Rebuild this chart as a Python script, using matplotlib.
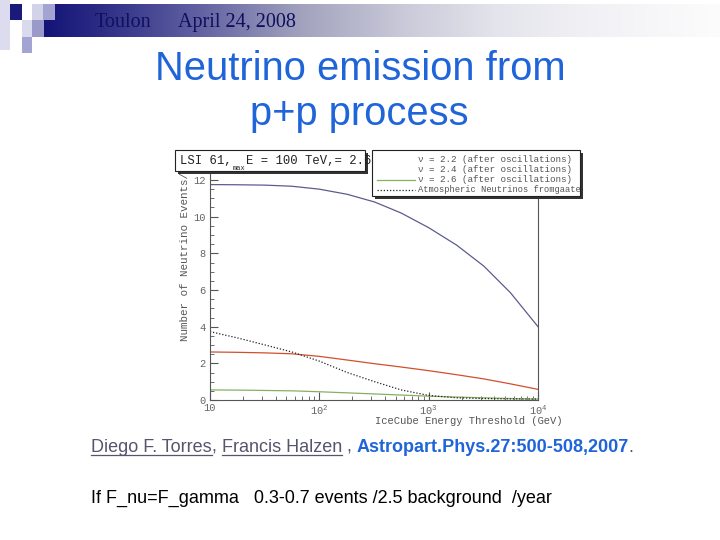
import numpy as np
import matplotlib.pyplot as plt
from matplotlib.patches import Rectangle
from matplotlib.colors import LinearSegmentedColormap
from matplotlib.ticker import FixedLocator, MultipleLocator, LogLocator, NullFormatter

# Données (seuil IceCube en GeV, nombre d'événements)
energie = [10, 18, 32, 56, 100, 180, 320, 560, 1000, 1800, 3200, 5600, 10000]
nu_22 = [11.75, 11.74, 11.72, 11.66, 11.5, 11.22, 10.8, 10.2, 9.4, 8.45, 7.3, 5.85, 4.0]
nu_24 = [2.62, 2.6, 2.57, 2.52, 2.38, 2.18, 1.98, 1.8, 1.6, 1.38, 1.15, 0.88, 0.58]
nu_26 = [0.55, 0.54, 0.52, 0.5, 0.45, 0.39, 0.33, 0.27, 0.21, 0.16, 0.12, 0.08, 0.05]
atmos = [3.73, 3.38, 3.0, 2.62, 2.12, 1.5, 1.0, 0.55, 0.25, 0.12, 0.08, 0.06, 0.05]

y_ticks = [0, 2, 4, 6, 8, 10, 12]
x_ticks = [10, 100, 1000, 10000]
x_tick_labels = ['10', '10$^{2}$', '10$^{3}$', '10$^{4}$']
legende = ['ν = 2.2 (after oscillations)',
           'ν = 2.4 (after oscillations)',
           'ν = 2.6 (after oscillations)',
           'Atmospheric Neutrinos fromgaate']

plt.rcParams['mathtext.fontset'] = 'custom'
plt.rcParams['mathtext.rm'] = 'Liberation Mono'
MONO = ['Liberation Mono', 'DejaVu Sans Mono']
GRIS = '#555555'

W, H = 720, 540
fig = plt.figure(figsize=(7.2, 5.4), dpi=100)
fig.patch.set_facecolor('white')


def boite(x0, y0, x1, y1):
    # rectangle en pixels (origine en haut à gauche) -> coordonnées figure
    return [x0 / W, 1 - y1 / H, (x1 - x0) / W, (y1 - y0) / H]


# --- graphique ---
ax = fig.add_axes(boite(210, 169, 538, 400))
ax.set_xscale('log')
ax.set_xlim(10, 1e4)
ax.set_ylim(0, 12.6)
ax.plot(energie, nu_22, color='#5c5c8e', lw=0.9)
ax.plot(energie, nu_24, color='#d0502e', lw=0.9)
ax.plot(energie, nu_26, color='#86b060', lw=0.9)
ax.plot(energie, atmos, color='#222222', lw=0.9, ls=(0, (1, 1.5)))

ax.spines['top'].set_visible(False)
for s in ['left', 'right', 'bottom']:
    ax.spines[s].set_color(GRIS)
    ax.spines[s].set_linewidth(0.8)
ax.yaxis.set_major_locator(FixedLocator(y_ticks))
ax.yaxis.set_minor_locator(MultipleLocator(0.5))
ax.xaxis.set_major_locator(FixedLocator(x_ticks))
ax.xaxis.set_minor_locator(LogLocator(base=10, subs=np.arange(2, 10)))
ax.xaxis.set_minor_formatter(NullFormatter())
ax.set_xticklabels(x_tick_labels)
ax.tick_params(which='both', direction='in', colors=GRIS, labelcolor='#666666',
               labelsize=7.5, right=False, top=False)
ax.tick_params(which='major', length=6, width=0.8, pad=3)
ax.tick_params(which='minor', length=3, width=0.6)
ax.tick_params(axis='x', which='major', pad=2.5)
for lab in ax.get_xticklabels() + ax.get_yticklabels():
    lab.set_family(MONO)

# --- calque de la diapositive ---
ov = fig.add_axes([0, 0, 1, 1], zorder=5)
ov.set_xlim(0, W)
ov.set_ylim(H, 0)
ov.axis('off')
ov.patch.set_alpha(0)

# bandeau en dégradé
degrade = LinearSegmentedColormap.from_list(
    'bandeau', [(0, '#141478'), (0.075, '#2a2a84'), (0.23, '#6262a2'),
                (0.38, '#a2a2be'), (0.53, '#c9c9d9'), (0.67, '#e4e4ec'),
                (0.82, '#f2f2f6'), (1, '#fcfcfc')])
ov.imshow(np.linspace(0, 1, 256)[None, :], cmap=degrade, aspect='auto',
          extent=(44, 720, 37, 4), zorder=1)

carres = [(0, 0, 10, 50, '#dcdcee'), (10, 4, 12, 16, '#1a1a7a'),
          (32, 4, 11, 16, '#d2d2e8'), (43, 4, 12, 16, '#a4a4d2'),
          (22, 20, 10, 17, '#dadaee'), (32, 20, 12, 17, '#9a9aca'),
          (22, 37, 10, 16, '#a4a4d2')]
for x, y, w, h, c in carres:
    ov.add_patch(Rectangle((x, y), w, h, color=c, lw=0, zorder=2))

ov.text(95, 27, 'Toulon', family='Liberation Serif', fontsize=14.5,
        color='#10105e', zorder=3)
ov.text(178, 27, 'April 24, 2008', family='Liberation Serif', fontsize=14.5,
        color='#10105e', zorder=3)

ov.text(360, 80, 'Neutrino emission from', family='Liberation Sans', fontsize=28.7,
        color='#1f64d8', ha='center', va='baseline')
ov.text(359, 125, 'p+p process', family='Liberation Sans', fontsize=28.7,
        color='#1f64d8', ha='center', va='baseline')

# étiquettes des axes
ov.text(185, 341, 'Number of Neutrino Events/', family=MONO, fontsize=7.8,
        color=GRIS, rotation=90, ha='center', va='bottom', zorder=3)
ov.text(375, 424, 'IceCube Energy Threshold (GeV)', family=MONO, fontsize=7.6,
        color=GRIS, va='baseline', zorder=3)

# boîte du titre avec ombre
ov.add_patch(Rectangle((178, 153), 190, 21, color='#333333', lw=0, zorder=4))
ov.add_patch(Rectangle((175, 150), 190, 21, facecolor='white', edgecolor='#222222',
                       lw=0.8, zorder=5))
ov.text(180, 161, 'LSI 61,', family=MONO, fontsize=8.8,
        color='#222222', va='center', zorder=6)
ov.text(246, 161, 'E = 100 TeV,= 2.6', family=MONO, fontsize=8.8,
        color='#222222', va='center', zorder=6)
ov.text(233, 168, 'max', family=MONO, fontsize=5, color='#222222',
        va='center', zorder=6)

# légende avec ombre
ov.add_patch(Rectangle((375, 153), 208, 46, color='#333333', lw=0, zorder=4))
cadre = Rectangle((372, 150), 208, 46, facecolor='white', edgecolor='#222222',
                  lw=0.8, zorder=5)
ov.add_patch(cadre)
rangs = [160, 170, 180, 190]
tailles = [6.7, 6.7, 6.7, 6.3]
for texte, y, taille in zip(legende, rangs, tailles):
    t = ov.text(418, y, texte, family=MONO, fontsize=taille, color=GRIS,
                va='center', zorder=6, clip_on=True)
    t.set_clip_path(cadre)
ov.plot([377, 415], [rangs[2], rangs[2]], color='#86b060', lw=0.9, zorder=6)
ov.plot([377, 415], [rangs[3], rangs[3]], color='#222222', lw=0.9,
        ls=(0, (1, 1.5)), zorder=6)

# ligne de référence, avec morceaux soulignés
rendu = fig.canvas.get_renderer()


def ligne(morceaux, x, y):
    for texte, couleur, poids, souligne in morceaux:
        t = ov.text(x, y, texte, family='Liberation Sans', fontsize=13,
                    color=couleur, fontweight=poids, va='baseline')
        largeur = t.get_window_extent(renderer=rendu).width
        if souligne:
            ov.plot([x, x + largeur], [y + 2.5, y + 2.5], color=couleur, lw=0.9)
        x += largeur


ligne([('Diego F. Torres', '#55556e', 'normal', True),
       (', ', '#55556e', 'normal', False),
       ('Francis Halzen', '#55556e', 'normal', True),
       (' , ', '#55556e', 'normal', False),
       ('Astropart.Phys.27:500-508,2007', '#1f64d8', 'bold', False),
       ('.', '#55556e', 'normal', False)], 91, 452)

ov.text(91, 503, 'If F_nu=F_gamma   0.3-0.7 events /2.5 background  /year',
        family='Liberation Sans', fontsize=13, color='black', va='baseline')

fig.savefig('out.png', dpi=100)
